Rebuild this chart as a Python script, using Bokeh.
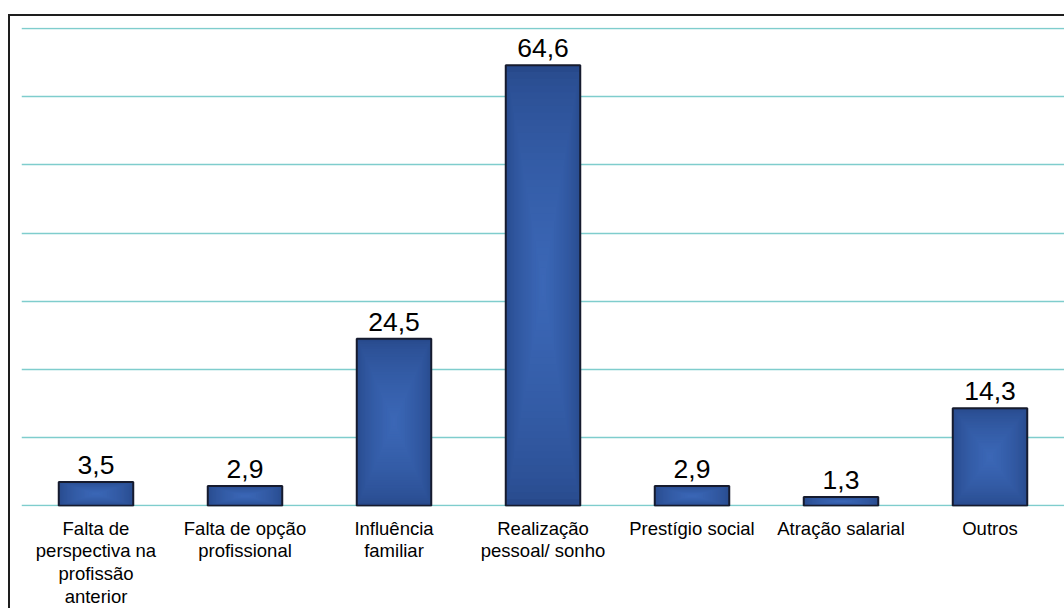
from bokeh.plotting import figure
from bokeh.models import Range1d, FactorRange, SingleIntervalTicker, ColumnDataSource
from bokeh.core.properties import value
from bokeh.embed import file_html
from bokeh.resources import INLINE

# Motivos para a escolha da profissão (%)
categories = [
    "Falta de\nperspectiva na\nprofissão\nanterior",
    "Falta de opção\nprofissional",
    "Influência\nfamiliar",
    "Realização\npessoal/ sonho",
    "Prestígio social",
    "Atração salarial",
    "Outros",
]
values = [3.5, 2.9, 24.5, 64.6, 2.9, 1.3, 14.3]
labels = [f"{v:.1f}".replace(".", ",") for v in values]

BAR_WIDTH = 0.5
EDGE = (0x27, 0x49, 0x8b)
CENTER = (0x3b, 0x67, 0xb6)
FONT = "Liberation Sans"


def mix(a, b, t):
    return "#%02x%02x%02x" % tuple(round(a[i] + (b[i] - a[i]) * t) for i in range(3))


p = figure(
    x_range=FactorRange(*categories),
    y_range=Range1d(-0.1, 70.15),
    width=1064,
    height=594,
    output_backend="svg",
    toolbar_location=None,
    min_border_left=11,
    min_border_top=11,
    min_border_right=10,
    min_border_bottom=100,
    outline_line_color=None,
    background_fill_color="white",
    border_fill_color="white",
)
p.margin = (14, 0, 0, 8)
p.styles = {
    "border-left": "2px solid #1e1e1e",
    "border-top": "2px solid #1e1e1e",
}

# shaded bars: nested rectangles lighten towards the centre
layers = 32
for k in range(layers):
    f = 0.49 * k / layers
    src = ColumnDataSource(dict(
        x=categories,
        top=[v * (1 - f) for v in values],
        bottom=[v * f for v in values],
    ))
    p.vbar(
        x="x", top="top", bottom="bottom", width=BAR_WIDTH * (1 - 2 * f), source=src,
        fill_color=mix(EDGE, CENTER, (k / (layers - 1)) ** 0.6),
        line_color=None,
    )

# bar outlines
p.vbar(x=categories, top=values, width=BAR_WIDTH, fill_color=None,
       line_color="#161b2e", line_width=2)

# value labels above bars
p.text(x=categories, y=values, text=labels, text_align="center", text_baseline="bottom",
       y_offset=-8, text_font=value(FONT), text_font_size="26.5px", text_color="#000000")

p.yaxis.visible = False
p.xgrid.grid_line_color = None
p.ygrid.ticker = SingleIntervalTicker(interval=10)
p.ygrid.grid_line_color = "#7fcdcd"
p.ygrid.grid_line_width = 1.5

ax = p.xaxis[0]
ax.axis_line_color = None
ax.major_tick_line_color = None
ax.minor_tick_line_color = None
ax.major_label_standoff = 5
ax.major_label_text_font = FONT
ax.major_label_text_font_size = "18.5px"
ax.major_label_text_color = "#000000"
ax.major_label_text_line_height = 1.09

open("out.html", "w").write(file_html(p, INLINE))
